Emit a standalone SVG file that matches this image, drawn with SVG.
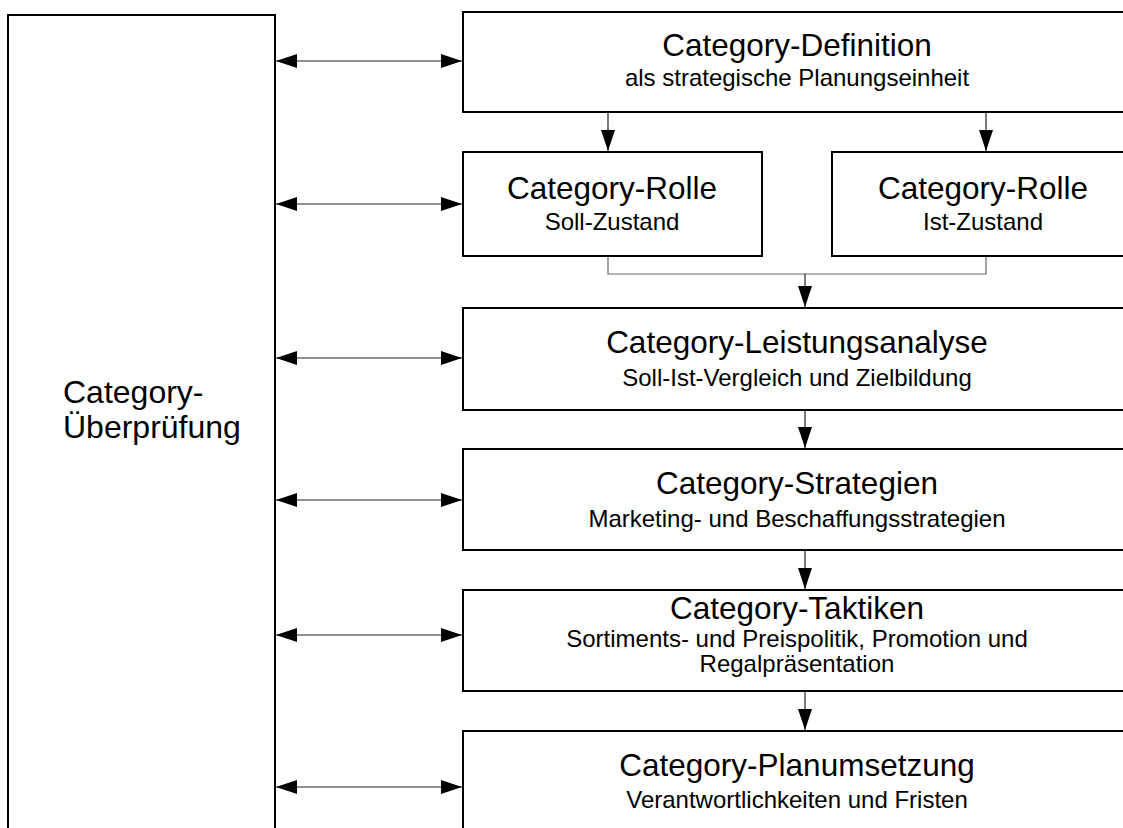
<svg xmlns="http://www.w3.org/2000/svg" width="1123" height="828" viewBox="0 0 1123 828">
<style>
.box{fill:#fff;stroke:#000;stroke-width:2}
.t{font-family:"Liberation Sans",Arial,sans-serif;font-size:31.5px;fill:#000;text-anchor:middle}
.s{font-family:"Liberation Sans",Arial,sans-serif;font-size:24px;fill:#000;text-anchor:middle}
.l{font-family:"Liberation Sans",Arial,sans-serif;font-size:32px;fill:#000}
.c{fill:none;stroke:#222;stroke-width:1.2}
.m{fill:none;stroke:#666;stroke-width:1.2}
</style>
<defs>
<marker id="ah" markerUnits="userSpaceOnUse" markerWidth="21" markerHeight="14" refX="21" refY="7" orient="auto-start-reverse" viewBox="0 0 21 14">
<path d="M0,0 L21,7 L0,14 z" fill="#000"/>
</marker>
</defs>
<rect width="1123" height="828" fill="#fff"/>
<g id="connectors">
<line class="c" x1="276" y1="61" x2="462" y2="61" marker-start="url(#ah)" marker-end="url(#ah)"/>
<line class="c" x1="276" y1="204" x2="462" y2="204" marker-start="url(#ah)" marker-end="url(#ah)"/>
<line class="c" x1="276" y1="358" x2="462" y2="358" marker-start="url(#ah)" marker-end="url(#ah)"/>
<line class="c" x1="276" y1="500" x2="462" y2="500" marker-start="url(#ah)" marker-end="url(#ah)"/>
<line class="c" x1="276" y1="635" x2="462" y2="635" marker-start="url(#ah)" marker-end="url(#ah)"/>
<line class="c" x1="276" y1="787" x2="462" y2="787" marker-start="url(#ah)" marker-end="url(#ah)"/>
<line class="c" x1="608" y1="113" x2="608" y2="151" marker-end="url(#ah)"/>
<line class="c" x1="986" y1="113" x2="986" y2="151" marker-end="url(#ah)"/>
<polyline class="m" points="608,257 608,274 986,274 986,257"/>
<line class="c" x1="805" y1="274" x2="805" y2="307" marker-end="url(#ah)"/>
<line class="c" x1="805" y1="410" x2="805" y2="448" marker-end="url(#ah)"/>
<line class="c" x1="805" y1="551" x2="805" y2="589" marker-end="url(#ah)"/>
<line class="c" x1="805" y1="692" x2="805" y2="730" marker-end="url(#ah)"/>
</g>
<g id="ueberpruefung">
<rect class="box" x="8" y="15" width="267" height="830"/>
<text class="l" x="63" y="403">Category-</text>
<text class="l" x="63" y="438">Überprüfung</text>
</g>
<g id="definition">
<rect class="box" x="463" y="12" width="668" height="100"/>
<text class="t" x="797" y="56">Category-Definition</text>
<text class="s" x="797" y="86">als strategische Planungseinheit</text>
</g>
<g id="rolle-soll">
<rect class="box" x="463" y="152" width="299" height="104"/>
<text class="t" x="612" y="199">Category-Rolle</text>
<text class="s" x="612" y="230">Soll-Zustand</text>
</g>
<g id="rolle-ist">
<rect class="box" x="832" y="152" width="302" height="104"/>
<text class="t" x="983" y="199">Category-Rolle</text>
<text class="s" x="983" y="230">Ist-Zustand</text>
</g>
<g id="leistungsanalyse">
<rect class="box" x="463" y="308" width="668" height="102"/>
<text class="t" x="797" y="353">Category-Leistungsanalyse</text>
<text class="s" x="797" y="386">Soll-Ist-Vergleich und Zielbildung</text>
</g>
<g id="strategien">
<rect class="box" x="463" y="449" width="668" height="101"/>
<text class="t" x="797" y="494">Category-Strategien</text>
<text class="s" x="797" y="527">Marketing- und Beschaffungsstrategien</text>
</g>
<g id="taktiken">
<rect class="box" x="463" y="590" width="668" height="101"/>
<text class="t" x="797" y="619">Category-Taktiken</text>
<text class="s" x="797" y="647">Sortiments- und Preispolitik, Promotion und</text>
<text class="s" x="797" y="672">Regalpräsentation</text>
</g>
<g id="planumsetzung">
<rect class="box" x="463" y="731" width="668" height="120"/>
<text class="t" x="797" y="776">Category-Planumsetzung</text>
<text class="s" x="797" y="808">Verantwortlichkeiten und Fristen</text>
</g>
</svg>
